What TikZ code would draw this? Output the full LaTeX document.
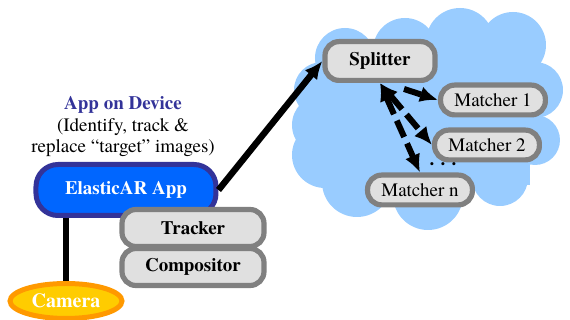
\documentclass[tikz,border=0pt]{standalone}
\usepackage{fontspec}
\setmainfont{texgyretermes}[Extension=.otf,UprightFont=*-regular,BoldFont=*-bold,ItalicFont=*-italic,BoldItalicFont=*-bolditalic]
\usepackage{xcolor}
\usetikzlibrary{arrows.meta,shapes.geometric}
\definecolor{cloudblue}{HTML}{99CCFF}
\definecolor{partgray}{HTML}{808080}
\definecolor{partfill}{HTML}{E0E0E0}
\definecolor{appblue}{HTML}{0066FF}
\definecolor{appnavy}{HTML}{333399}
\definecolor{camfill}{HTML}{FFCC00}
\definecolor{camedge}{HTML}{FF9900}

\begin{document}
\begin{tikzpicture}[x=0.5pt,y=-0.5pt,>=Latex,font=\fontsize{9.5}{10.75}\selectfont]
\tikzset{
part/.style={draw=partgray,line width=2.6pt,fill=partfill,rounded corners=7pt,inner sep=0pt,minimum width=52.4pt,minimum height=14.9pt},
bigpart/.style={part,font=\fontsize{9.5}{10.75}\selectfont\bfseries,minimum width=71pt,minimum height=18.5pt},
app/.style={draw=appnavy,line width=2.5pt,fill=appblue,rounded corners=11pt,inner sep=0pt,minimum width=90pt,minimum height=25.5pt,text=white,font=\fontsize{9.5}{10.75}\selectfont\bfseries},
cam/.style={ellipse,draw=camedge,line width=2.5pt,fill=camfill,inner sep=0pt,minimum width=56pt,minimum height=17.5pt,text=white,font=\fontsize{10}{11}\selectfont\bfseries},
link/.style={line width=3.2pt},
tip/.style={-{Latex[length=9pt,width=8pt]}},
fan/.style={line width=3pt,dash pattern=on 9pt off 3.5pt}}
\useasboundingbox (0,0) rectangle (570,320);

% cloud behind the server side
\foreach \cx/\cy/\r in {345/58/30,405/50/32,460/42/34,513/45/33,535/90/28,535/140/25,
  500/178/28,428/195/35,357/182/35,325/155/33,322/125/30,322/90/28}
  \fill[cloudblue] (\cx,\cy) circle (\r);
\fill[cloudblue] (330,60) rectangle (530,185);

\node[align=center] (label) at (123,127) {\textbf{\color{appnavy}App on Device}\\(Identify, track \&\\replace “target” images)};
\node[app] (elastic) at (126,190) {ElasticAR App};
\node[bigpart] (tracker) at (193,228) {Tracker};
\node[bigpart] (compositor) at (193,267) {Compositor};
\node[cam] (camera) at (66,301) {Camera};

\node[part,font=\fontsize{9.5}{10.75}\selectfont\bfseries,minimum width=55pt,minimum height=19.4pt] (splitter) at (380,61) {Splitter};
\node[part] (matcher1) at (493,100) {Matcher 1};
\node[part] (matcher2) at (487,145) {Matcher 2};
\node[part] (matchern) at (420,190) {Matcher n};
\node[anchor=base,inner sep=0pt] (dots) at (443,166) {\textbf{. . .}};

\draw[link] (camera.north |- elastic.south) -- (camera.north);
\draw[link,tip] (elastic.east) -- (splitter.west);

\draw[fan,tip] ([shift={(24,6)}]splitter.south) -- (matcher1.west);
\draw[fan,{Latex[length=9pt,width=8pt]}-{Latex[length=9pt,width=8pt]}] (splitter.south) -- (matcher2.west);
\draw[fan,{Latex[length=9pt,width=8pt]}-{Latex[length=9pt,width=8pt]}] (splitter.south) -- (matchern.north);
\end{tikzpicture}
\end{document}
